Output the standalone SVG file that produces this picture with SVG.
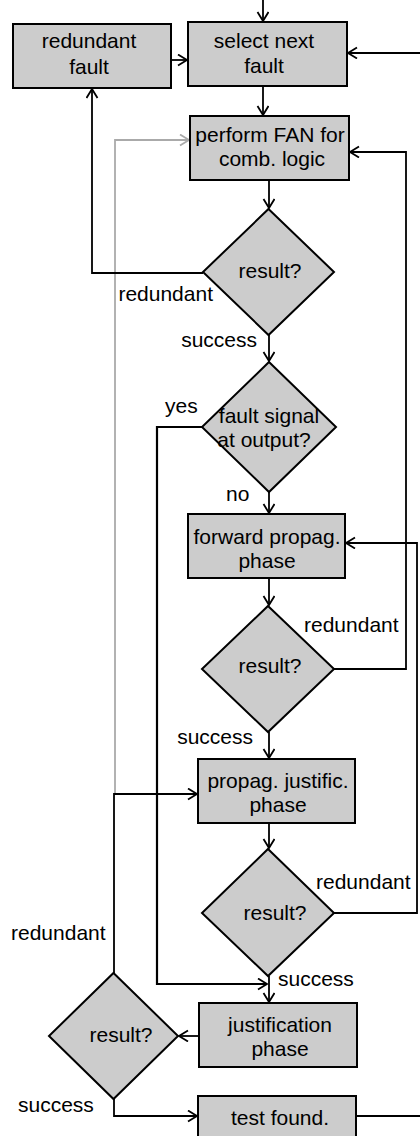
<svg xmlns="http://www.w3.org/2000/svg" width="420" height="1136" viewBox="0 0 420 1136">
<style>
  .box{fill:#cccccc;stroke:#000;stroke-width:2}
  .t{font-family:"Liberation Sans",Arial,sans-serif;font-size:21px;fill:#000}
  .m{text-anchor:middle}
  .e{text-anchor:end}
  .c{fill:none;stroke:#000;stroke-width:1.8}
  .g{fill:none;stroke:#aaaaaa;stroke-width:1.8}
</style>
<defs>
  <marker id="a" markerUnits="userSpaceOnUse" markerWidth="14" markerHeight="14" refX="10" refY="6" orient="auto">
    <path d="M1,0.5 L10,6 L1,11.5" fill="none" stroke="#000" stroke-width="1.8"/>
  </marker>
  <marker id="ag" markerUnits="userSpaceOnUse" markerWidth="14" markerHeight="14" refX="10" refY="6" orient="auto">
    <path d="M1,0.5 L10,6 L1,11.5" fill="none" stroke="#aaaaaa" stroke-width="1.8"/>
  </marker>
</defs>
<g id="connectors">
  <path class="g" d="M115,794 V140 H189" marker-end="url(#ag)"/>
  <path class="c" d="M263,0 V21" marker-end="url(#a)"/>
  <path class="c" d="M171,60 H187" marker-end="url(#a)"/>
  <path class="c" d="M420,53 H348" marker-end="url(#a)"/>
  <path class="c" d="M263,86 V115" marker-end="url(#a)"/>
  <path class="c" d="M269,180 V208" marker-end="url(#a)"/>
  <path class="c" d="M203,273 H92 V89" marker-end="url(#a)"/>
  <path class="c" d="M269,335 V361" marker-end="url(#a)"/>
  <path class="c" d="M202,427 H157 V984 H267" marker-end="url(#a)" style="stroke-width:2.2"/>
  <path class="c" d="M269,492 V513" marker-end="url(#a)"/>
  <path class="c" d="M269,578 V605" marker-end="url(#a)"/>
  <path class="c" d="M334,669 H406 V152 H350" marker-end="url(#a)"/>
  <path class="c" d="M269,732 V758" marker-end="url(#a)"/>
  <path class="c" d="M269,823 V848" marker-end="url(#a)"/>
  <path class="c" d="M334,913 H417 V543 H346" marker-end="url(#a)"/>
  <path class="c" d="M269,976 V1002" marker-end="url(#a)"/>
  <path class="c" d="M199,1036 H179" marker-end="url(#a)"/>
  <path class="c" d="M114,973 V794 H197" marker-end="url(#a)"/>
  <path class="c" d="M114,1099 V1116 H197" marker-end="url(#a)"/>
  <path class="c" d="M356,1116 H420"/>
</g>
<g id="n_redundant_fault">
  <rect class="box" x="13" y="24" width="158" height="64"/>
  <text class="t m" x="89" y="48">redundant</text>
  <text class="t m" x="89" y="74">fault</text>
</g>
<g id="n_select">
  <rect class="box" x="188" y="22" width="159" height="64"/>
  <text class="t m" x="264" y="48">select next</text>
  <text class="t m" x="264" y="73">fault</text>
</g>
<g id="n_perform">
  <rect class="box" x="190" y="116" width="159" height="64"/>
  <text class="t m" x="270" y="142">perform FAN for</text>
  <text class="t m" x="272" y="166">comb. logic</text>
</g>
<g id="n_result1">
  <polygon class="box" points="268.5,209 334,272 268.5,335 203,272"/>
  <text class="t m" x="270" y="278">result?</text>
</g>
<g id="n_faultsignal">
  <polygon class="box" points="269,362 336,427 269,492 202,427"/>
  <text class="t m" x="269" y="423">fault signal</text>
  <text class="t m" x="264" y="447">at output?</text>
</g>
<g id="n_forward">
  <rect class="box" x="188" y="514" width="157" height="64"/>
  <text class="t m" x="267" y="544">forward propag.</text>
  <text class="t m" x="267" y="568">phase</text>
</g>
<g id="n_result2">
  <polygon class="box" points="268,606 334,669 268,732 202,669"/>
  <text class="t m" x="270" y="673">result?</text>
</g>
<g id="n_propag">
  <rect class="box" x="198" y="759" width="157" height="64"/>
  <text class="t m" x="278" y="788">propag. justific.</text>
  <text class="t m" x="278" y="812">phase</text>
</g>
<g id="n_result3">
  <polygon class="box" points="268,849 334,913 268,976 202,913"/>
  <text class="t m" x="275" y="920">result?</text>
</g>
<g id="n_justification">
  <rect class="box" x="199" y="1003" width="158" height="64"/>
  <text class="t m" x="280" y="1032">justification</text>
  <text class="t m" x="280" y="1056">phase</text>
</g>
<g id="n_result4">
  <polygon class="box" points="113.5,973 178,1036 113.5,1099 49,1036"/>
  <text class="t m" x="121" y="1042">result?</text>
</g>
<g id="n_testfound">
  <rect class="box" x="198" y="1096" width="158" height="50"/>
  <text class="t m" x="280" y="1125">test found.</text>
</g>
<g id="labels">
  <text class="t e" x="213" y="301">redundant</text>
  <text class="t e" x="257" y="347">success</text>
  <text class="t" x="165" y="413">yes</text>
  <text class="t" x="226" y="501">no</text>
  <text class="t" x="304" y="632">redundant</text>
  <text class="t e" x="253" y="744">success</text>
  <text class="t" x="316" y="889">redundant</text>
  <text class="t" x="11" y="940">redundant</text>
  <text class="t" x="278" y="986">success</text>
  <text class="t" x="18" y="1112">success</text>
</g>
</svg>
